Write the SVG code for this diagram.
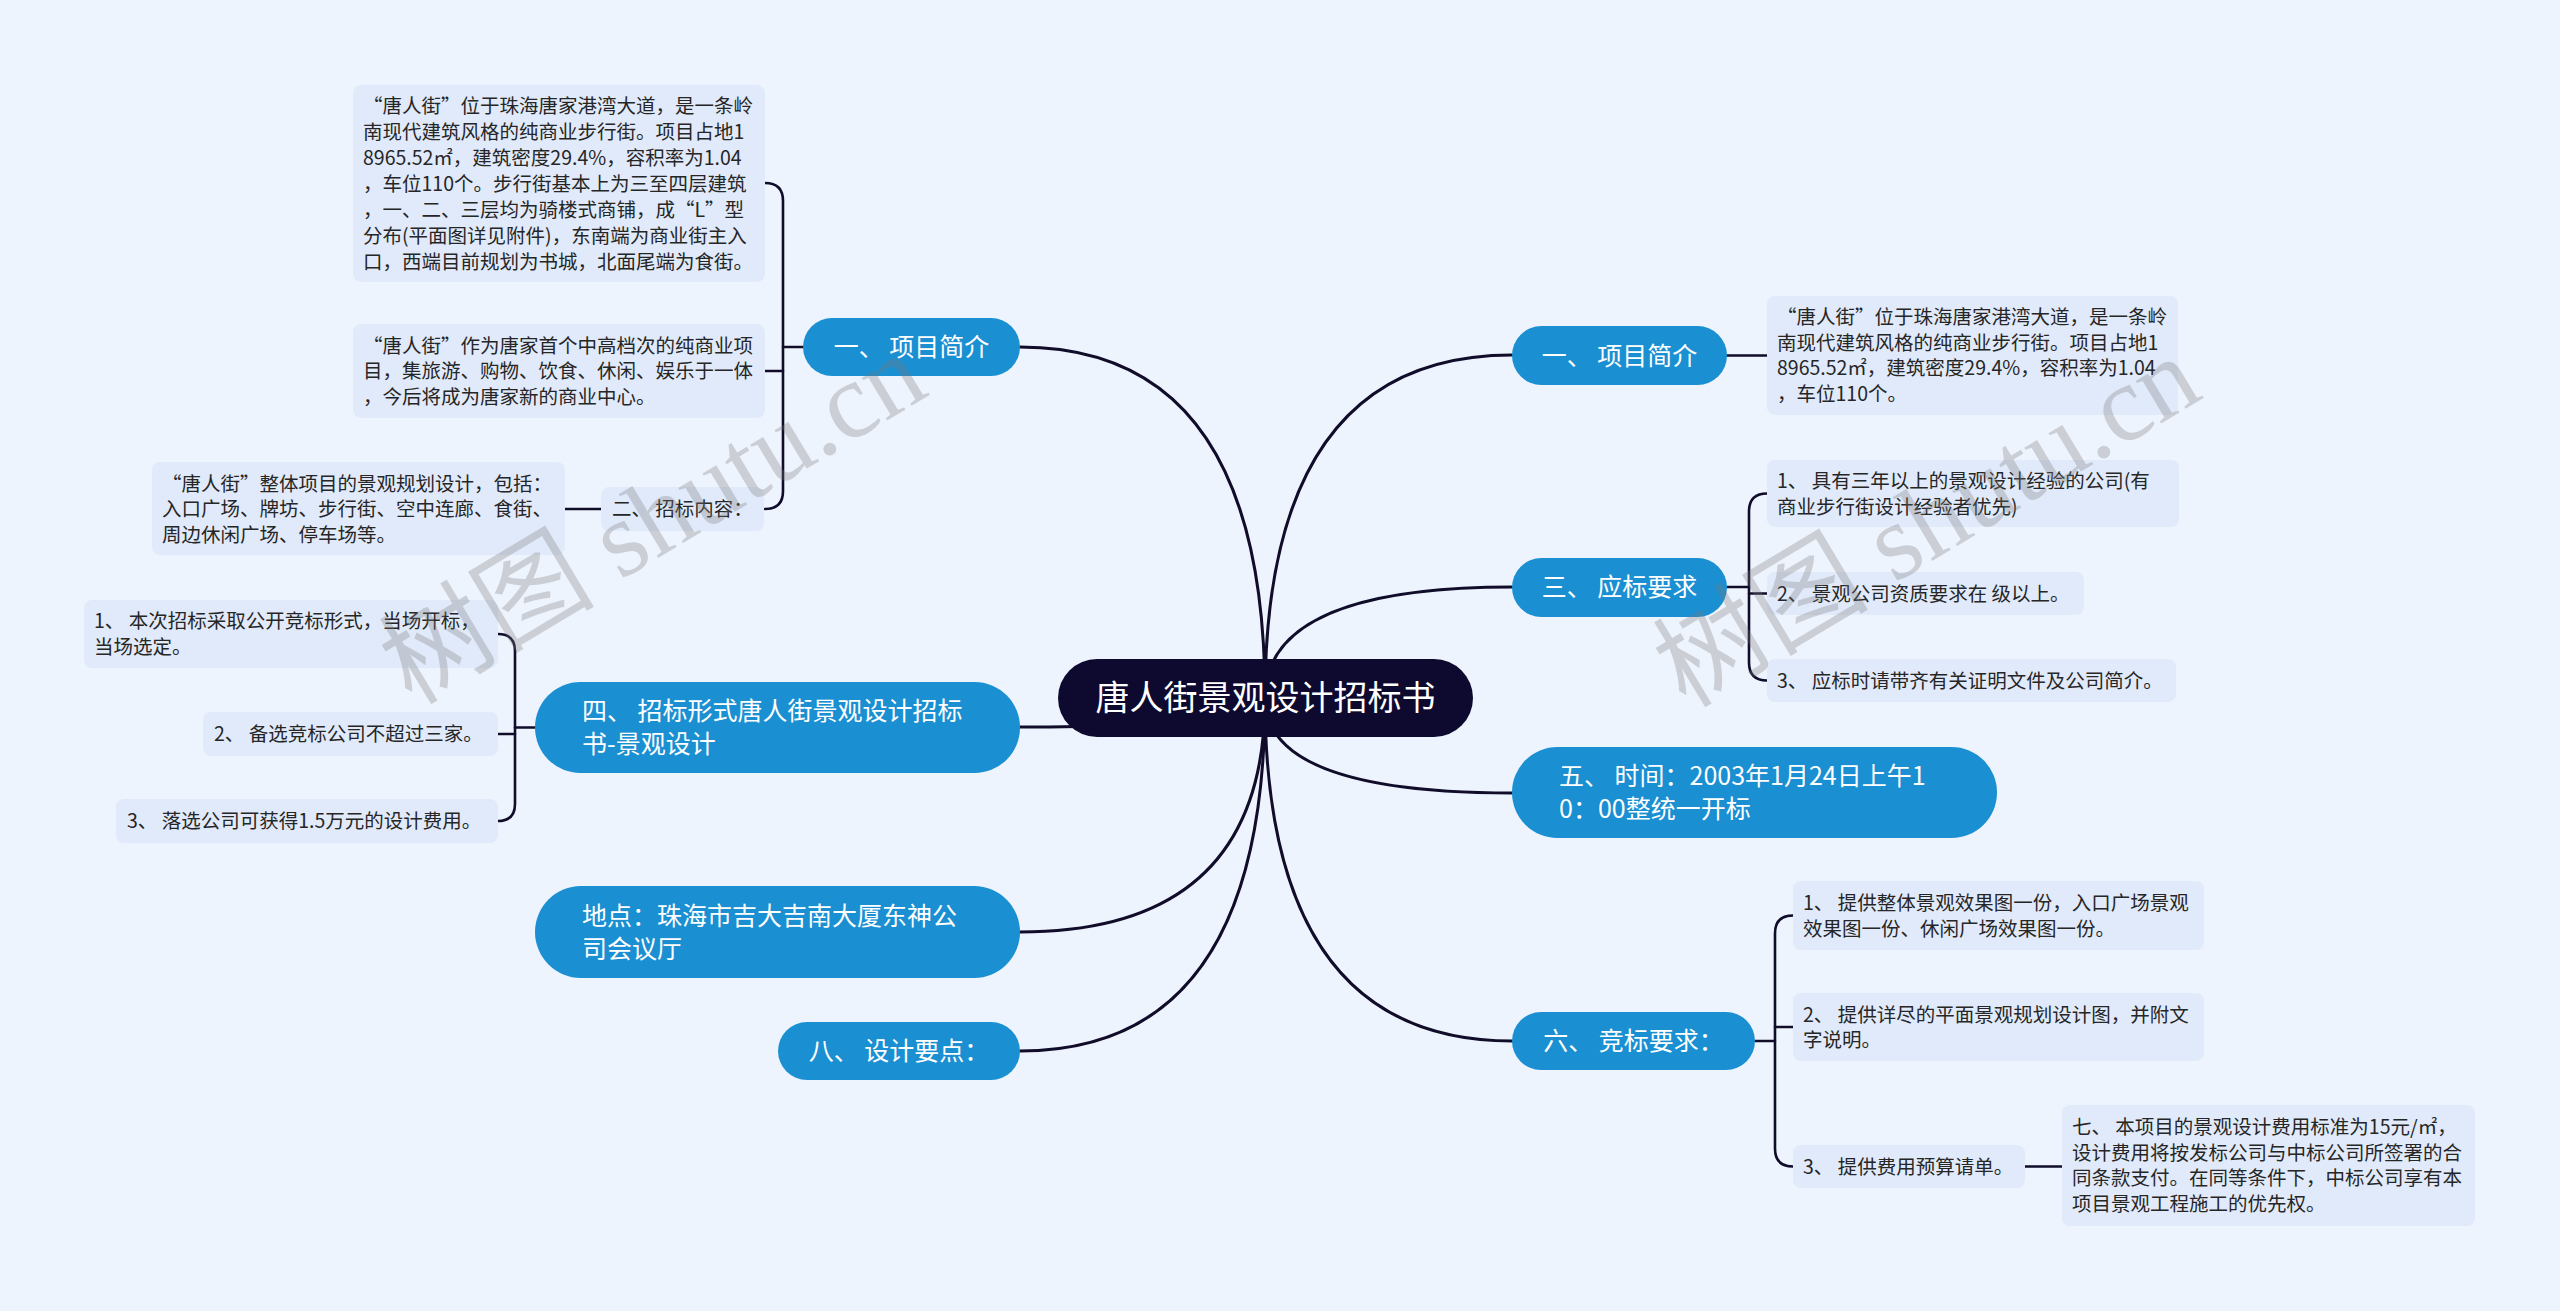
<svg xmlns="http://www.w3.org/2000/svg" width="2560" height="1311" viewBox="0 0 2560 1311">
<style>
.bg{fill:#eef4fd}
.main rect{fill:#1a8fd2}
.main text{fill:#ffffff;font-family:"Noto Sans CJK SC","Microsoft YaHei",sans-serif;font-size:25px}
.sub rect{fill:#e1eafa}
.sub text{fill:#262626;font-family:"Noto Sans CJK SC","Microsoft YaHei",sans-serif;font-size:19.5px}
.root rect{fill:#0e0a2f}
.root text{fill:#ffffff;font-family:"Noto Sans CJK SC","Microsoft YaHei",sans-serif;font-size:34px}
.c path{fill:none;stroke:#100c2a;stroke-width:2.6;stroke-linecap:round}
.c path.r{stroke-width:3}
.wm{fill:#7a7a7a;fill-opacity:0.3;font-family:"Liberation Serif","Noto Sans CJK SC",serif;font-size:108px}
</style>
<rect class="bg" x="0" y="0" width="2560" height="1311"/>
<g id="connectors" class="c">
<path class="r" d="M1265,698 Q1265,347 1020,347"/>
<path class="r" d="M1265,698 Q1265,727 1020,727"/>
<path class="r" d="M1265,698 Q1265,932 1020,932"/>
<path class="r" d="M1265,698 Q1265,1051 1020,1051"/>
<path class="r" d="M1265,698 Q1265,355 1512,355"/>
<path class="r" d="M1265,698 Q1265,587 1512,587"/>
<path class="r" d="M1265,698 Q1265,793 1512,793"/>
<path class="r" d="M1265,698 Q1265,1041 1512,1041"/>
<path d="M765,183 Q783,183 783,201 L783,491 Q783,509 765,509"/>
<path d="M783,347 H803 M783,371 H765"/>
<path d="M601,509 H565"/>
<path d="M498,634 Q515,634 515,651 L515,804 Q515,821 498,821"/>
<path d="M515,727.5 H535 M515,734 H498"/>
<path d="M1727,355.5 H1767"/>
<path d="M1767,493.5 Q1749,493.5 1749,511.5 L1749,662.5 Q1749,680.5 1767,680.5"/>
<path d="M1727,587 H1749 M1749,593.5 H1767"/>
<path d="M1793,915.5 Q1775,915.5 1775,933.5 L1775,1148.5 Q1775,1166.5 1793,1166.5"/>
<path d="M1755,1041 H1775 M1775,1027 H1793"/>
<path d="M2025,1166.5 H2062"/>
</g>
<g id="root" class="root">
<rect x="1058" y="659" width="415" height="78" rx="39"/>
<text x="1265.5" y="710" text-anchor="middle">唐人街景观设计招标书</text>
</g>
<g id="L1" class="main">
<rect x="803" y="318" width="217" height="58" rx="29"/>
<text x="911.5" y="356" text-anchor="middle">一、 项目简介</text>
</g>
<g id="L1a" class="sub">
<rect x="353" y="85" width="412" height="197" rx="8"/>
<text x="363"><tspan x="363" y="113">“唐人街”位于珠海唐家港湾大道，是一条岭</tspan><tspan x="363" y="139">南现代建筑风格的纯商业步行街。项目占地1</tspan><tspan x="363" y="165">8965.52㎡，建筑密度29.4%，容积率为1.04</tspan><tspan x="363" y="191">，车位110个。步行街基本上为三至四层建筑</tspan><tspan x="363" y="217">，一、二、三层均为骑楼式商铺，成“L”型</tspan><tspan x="363" y="243">分布(平面图详见附件)，东南端为商业街主入</tspan><tspan x="363" y="269">口，西端目前规划为书城，北面尾端为食街。</tspan></text>
</g>
<g id="L1b" class="sub">
<rect x="353" y="324" width="412" height="94" rx="8"/>
<text x="363"><tspan x="363" y="352.5">“唐人街”作为唐家首个中高档次的纯商业项</tspan><tspan x="363" y="378">目，集旅游、购物、饮食、休闲、娱乐于一体</tspan><tspan x="363" y="403.5">，今后将成为唐家新的商业中心。</tspan></text>
</g>
<g id="L1c" class="sub">
<rect x="601" y="487" width="163" height="44" rx="8"/>
<text x="612" y="516">二、 招标内容：</text>
</g>
<g id="L1c1" class="sub">
<rect x="152" y="462" width="413" height="93" rx="8"/>
<text x="162"><tspan x="162" y="490.5">“唐人街”整体项目的景观规划设计，包括：</tspan><tspan x="162" y="516">入口广场、牌坊、步行街、空中连廊、食街、</tspan><tspan x="162" y="541.5">周边休闲广场、停车场等。</tspan></text>
</g>
<g id="L4" class="main">
<rect x="535" y="682" width="485" height="91" rx="45.5"/>
<text x="582"><tspan x="582" y="720">四、 招标形式唐人街景观设计招标</tspan><tspan x="582" y="753">书-景观设计</tspan></text>
</g>
<g id="L4a" class="sub">
<rect x="84" y="600" width="414" height="68" rx="8"/>
<text x="94"><tspan x="94" y="628">1、 本次招标采取公开竞标形式，当场开标，</tspan><tspan x="94" y="654">当场选定。</tspan></text>
</g>
<g id="L4b" class="sub">
<rect x="203" y="712" width="295" height="44" rx="8"/>
<text x="214" y="741">2、 备选竞标公司不超过三家。</text>
</g>
<g id="L4c" class="sub">
<rect x="116" y="799" width="382" height="44" rx="8"/>
<text x="127" y="828">3、 落选公司可获得1.5万元的设计费用。</text>
</g>
<g id="L5" class="main">
<rect x="535" y="886" width="485" height="92" rx="46"/>
<text x="582"><tspan x="582" y="925">地点：珠海市吉大吉南大厦东神公</tspan><tspan x="582" y="958">司会议厅</tspan></text>
</g>
<g id="L8" class="main">
<rect x="778" y="1022" width="242" height="58" rx="29"/>
<text x="899" y="1060" text-anchor="middle">八、 设计要点：</text>
</g>
<g id="R1" class="main">
<rect x="1512" y="326" width="215" height="59" rx="29.5"/>
<text x="1619.5" y="364.5" text-anchor="middle">一、 项目简介</text>
</g>
<g id="R1a" class="sub">
<rect x="1767" y="296" width="411" height="119" rx="8"/>
<text x="1777"><tspan x="1777" y="324">“唐人街”位于珠海唐家港湾大道，是一条岭</tspan><tspan x="1777" y="350">南现代建筑风格的纯商业步行街。项目占地1</tspan><tspan x="1777" y="375">8965.52㎡，建筑密度29.4%，容积率为1.04</tspan><tspan x="1777" y="401">，车位110个。</tspan></text>
</g>
<g id="R3" class="main">
<rect x="1512" y="558" width="215" height="59" rx="29.5"/>
<text x="1619.5" y="596" text-anchor="middle">三、 应标要求</text>
</g>
<g id="R3a" class="sub">
<rect x="1767" y="460" width="412" height="67" rx="8"/>
<text x="1777"><tspan x="1777" y="488">1、 具有三年以上的景观设计经验的公司(有</tspan><tspan x="1777" y="513.5">商业步行街设计经验者优先)</tspan></text>
</g>
<g id="R3b" class="sub">
<rect x="1767" y="572" width="317" height="43" rx="8"/>
<text x="1777" y="600.5">2、 景观公司资质要求在 级以上。</text>
</g>
<g id="R3c" class="sub">
<rect x="1767" y="659" width="409" height="43" rx="8"/>
<text x="1777" y="687.5">3、 应标时请带齐有关证明文件及公司简介。</text>
</g>
<g id="R5" class="main">
<rect x="1512" y="747" width="485" height="91" rx="45.5"/>
<text x="1559"><tspan x="1559" y="785">五、 时间：2003年1月24日上午1</tspan><tspan x="1559" y="818">0：00整统一开标</tspan></text>
</g>
<g id="R6" class="main">
<rect x="1512" y="1012" width="243" height="58" rx="29"/>
<text x="1633.5" y="1050" text-anchor="middle">六、 竞标要求：</text>
</g>
<g id="R6a" class="sub">
<rect x="1793" y="881" width="411" height="69" rx="8"/>
<text x="1803"><tspan x="1803" y="910">1、 提供整体景观效果图一份，入口广场景观</tspan><tspan x="1803" y="935.5">效果图一份、休闲广场效果图一份。</tspan></text>
</g>
<g id="R6b" class="sub">
<rect x="1793" y="993" width="411" height="68" rx="8"/>
<text x="1803"><tspan x="1803" y="1021.5">2、 提供详尽的平面景观规划设计图，并附文</tspan><tspan x="1803" y="1047">字说明。</tspan></text>
</g>
<g id="R6c" class="sub">
<rect x="1793" y="1145" width="232" height="43" rx="8"/>
<text x="1803" y="1173.5">3、 提供费用预算请单。</text>
</g>
<g id="R6c1" class="sub">
<rect x="2062" y="1105" width="413" height="121" rx="8"/>
<text x="2072"><tspan x="2072" y="1134">七、 本项目的景观设计费用标准为15元/㎡，</tspan><tspan x="2072" y="1159.5">设计费用将按发标公司与中标公司所签署的合</tspan><tspan x="2072" y="1185">同条款支付。在同等条件下，中标公司享有本</tspan><tspan x="2072" y="1210.5">项目景观工程施工的优先权。</tspan></text>
</g>
<g id="watermarks">
<text class="wm" x="653" y="555" text-anchor="middle" transform="rotate(-31 653 519)">树图 shutu.cn</text>
<text class="wm" x="1927" y="558" text-anchor="middle" transform="rotate(-31 1927 522)">树图 shutu.cn</text>
</g>
</svg>
